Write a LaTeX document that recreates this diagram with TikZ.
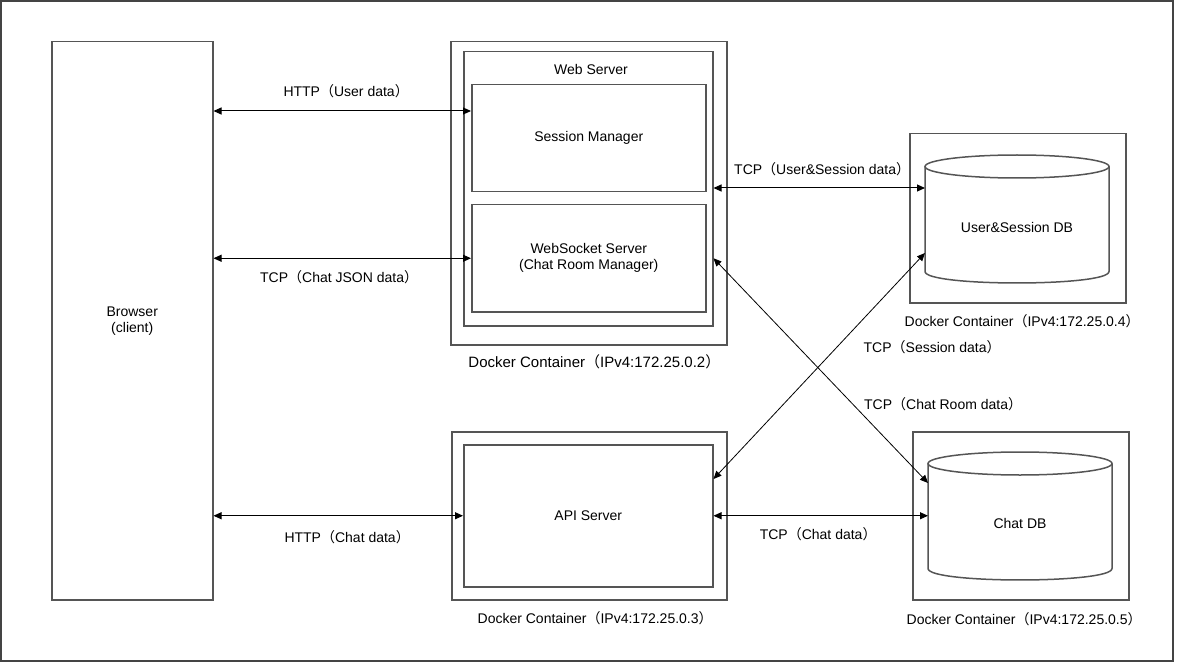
\documentclass[tikz,border=0pt]{standalone}
\usepackage{fontspec}
\setmainfont{Liberation Sans}
\newfontfamily\cjk{Noto Sans CJK SC}
\usetikzlibrary{arrows.meta,calc}
\newcommand\lpar{{\cjk （}}
\newcommand\rpar{{\cjk ）}\kern-.45em}
\definecolor{boxgray}{HTML}{555555}
\definecolor{framegray}{HTML}{444444}
\begin{document}
\begin{tikzpicture}[x=1pt,y=-1pt,
  box/.style={draw=boxgray,line width=1.5pt,inner sep=0pt,anchor=north west,
    font=\fontsize{14}{16}\selectfont,align=center},
  ghost/.style={inner sep=0pt,anchor=north west},
  lbl/.style={font=\fontsize{14}{16}\selectfont,text=black,inner sep=0pt,align=center},
  conn/.style={line width=1pt,{Triangle[length=8pt,width=7pt]}-{Triangle[length=8pt,width=7pt]}},
  diag/.style={line width=0.8pt,{Triangle[length=8pt,width=7pt]}-{Triangle[length=8pt,width=7pt]}},
  cyl/.style={draw=boxgray,line width=1.5pt}]
\useasboundingbox (0,0) rectangle (1191,663);
\draw[framegray,line width=2pt] (1,1) rectangle (1173,661);

% Browser
\node[box,minimum width=161,minimum height=558] (browser) at (51,41) {Browser\\(client)};

% Web server container
\node[box,minimum width=276,minimum height=303] (webout) at (450,41) {};
\node[box,minimum width=249,minimum height=274] (webin) at (463,51) {};
\node[lbl] (webtitle) at (591,69) {Web Server};
\node[box,minimum width=234,minimum height=107] (sess) at (471,84) {Session Manager};
\node[box,minimum width=234,minimum height=107] (ws) at (471,204) {WebSocket Server\\(Chat Room Manager)};
\node[lbl,font=\fontsize{15}{17}\selectfont] (weblbl) at (591,362) {Docker Container\lpar IPv4:172.25.0.2\rpar};

% API container
\node[box,minimum width=275,minimum height=168] (apiout) at (451,431) {};
\node[box,minimum width=249,minimum height=142] (api) at (463,444) {API Server};
\node[lbl] (apilbl) at (592,618) {Docker Container\lpar IPv4:172.25.0.3\rpar};

% User&Session DB container
\node[box,minimum width=216,minimum height=169] (usout) at (909,133) {};
\node[ghost,minimum width=184,minimum height=128] (usdb) at (925,155) {};
\draw[cyl,fill=white] (925,166.5) -- (925,271.5) .. controls (925,286.8) and (1109,286.8) .. (1109,271.5) -- (1109,166.5);
\draw[cyl] (1017,166.5) ellipse [x radius=92, y radius=11.5];
\node[lbl] (ustext) at (1017,227) {User\&Session DB};
\node[lbl] (uslbl) at (1019,321) {Docker Container\lpar IPv4:172.25.0.4\rpar};

% Chat DB container
\node[box,minimum width=216,minimum height=168] (chout) at (912,431) {};
\node[ghost,minimum width=184,minimum height=128] (chatdb) at (928,452) {};
\draw[cyl,fill=white] (928,463.5) -- (928,568.5) .. controls (928,583.8) and (1112,583.8) .. (1112,568.5) -- (1112,463.5);
\draw[cyl] (1020,463.5) ellipse [x radius=92, y radius=11.5];
\node[lbl] (chtext) at (1020,523) {Chat DB};
\node[lbl] (chlbl) at (1021,619) {Docker Container\lpar IPv4:172.25.0.5\rpar};

% helper coordinates
\coordinate (yUser) at (0,111);
\coordinate (yUS) at (0,188);
\coordinate (dA) at (0,483);
\coordinate (dB) at (0,479);
\coordinate (dC) at (0,253);

% connectors
\draw[conn] (browser.east |- yUser) -- (sess.west |- yUser);
\node[lbl] (l1) at (343,91) {HTTP\lpar User data\rpar};
\draw[conn] (browser.east |- ws.west) -- (ws.west);
\node[lbl] (l2) at (336,277) {TCP\lpar Chat JSON data\rpar};
\draw[conn] (browser.east |- api.west) -- (api.west);
\node[lbl] (l3) at (344,537) {HTTP\lpar Chat data\rpar};
\draw[conn] (webin.east |- yUS) -- (usdb.west |- yUS);
\node[lbl] (l4) at (819,169) {TCP\lpar User\&Session data\rpar};
\draw[conn] (api.east) -- (chatdb.west |- api.east);
\node[lbl] (l5) at (815,534) {TCP\lpar Chat data\rpar};
\draw[diag] (webin.east |- ws.east) -- (chatdb.west |- dA);
\draw[diag] (api.east |- dB) -- (usdb.west |- dC);
\node[lbl] (l6) at (929,347) {TCP\lpar Session data\rpar};
\node[lbl] (l7) at (940,404) {TCP\lpar Chat Room data\rpar};
\end{tikzpicture}
\end{document}
